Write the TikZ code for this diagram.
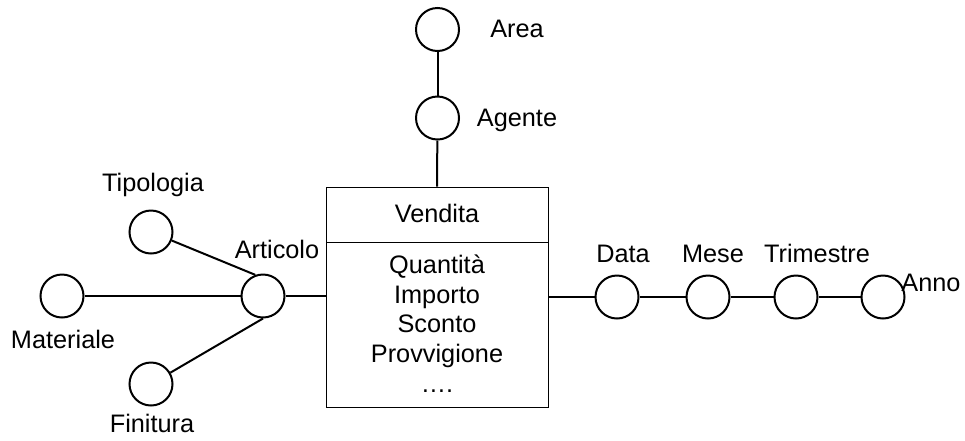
\documentclass[tikz,border=0pt]{standalone}
\usepackage{fontspec}
\setmainfont{Liberation Sans}
\begin{document}
\begin{tikzpicture}[x=1pt,y=-1pt,
  ent/.style={circle,draw,line width=2pt,minimum size=43pt,inner sep=0pt},
  lbl/.style={anchor=base,inner sep=0pt,font=\fontsize{25.3}{30}\selectfont},
  link/.style={line width=2pt},
  factbox/.style={draw,line width=1pt,minimum width=222pt,minimum height=220pt,inner sep=0pt}]
\useasboundingbox (0,0) rectangle (965,440);
% entities
\node[ent] (area) at (437.5,29.5) {};
\node[ent] (agente) at (437.5,118) {};
\node[ent] (articolo) at (263,296) {};
\node[ent] (tipologia) at (151,232) {};
\node[ent] (materiale) at (62,296) {};
\node[ent] (finitura) at (151,384) {};
\node[ent] (data) at (617,297) {};
\node[ent] (mese) at (708,297) {};
\node[ent] (trimestre) at (796,297) {};
\node[ent] (anno) at (883,297) {};
% fact box
\node[factbox] (vendita) at (437,297) {};
\coordinate (divL) at (326,242);
\coordinate (divR) at (548,242);
\draw[line width=1pt] (divL) -- (divR);
% labels
\node[lbl] (lArea) at (517,37) {Area};
\node[lbl] (lAgente) at (517,126) {Agente};
\node[lbl] (lVendita) at (437,222) {Vendita};
\node[lbl] (lTipologia) at (153,191) {Tipologia};
\node[lbl] (lArticolo) at (277,258) {Articolo};
\node[lbl] (lMateriale) at (63,348) {Materiale};
\node[lbl] (lFinitura) at (152,432) {Finitura};
\node[lbl] (lData) at (623,262) {Data};
\node[lbl] (lMese) at (713,262) {Mese};
\node[lbl] (lTrimestre) at (817,262) {Trimestre};
\node[lbl] (lAnno) at (931,291) {Anno};
\node[lbl] (m1) at (437,273) {Quantità};
\node[lbl] (m2) at (437,303) {Importo};
\node[lbl] (m3) at (437,332.5) {Sconto};
\node[lbl] (m4) at (437,362) {Provvigione};
\node[lbl] (m5) at (437,392) {….};
% connectors
\draw[link] (area) -- (agente);
\draw[link] (agente) -- (vendita.north);
\draw[link] (tipologia) -- (articolo.110);
\draw[link] (materiale) -- (articolo);
\draw[link] (finitura) -- (articolo.south);
\draw[link] (articolo.east) -- (articolo.east -| vendita.west);
\draw[link] (vendita.east |- data) -- (data);
\draw[link] (data) -- (mese);
\draw[link] (mese) -- (trimestre);
\draw[link] (trimestre) -- (anno);
\end{tikzpicture}
\end{document}
